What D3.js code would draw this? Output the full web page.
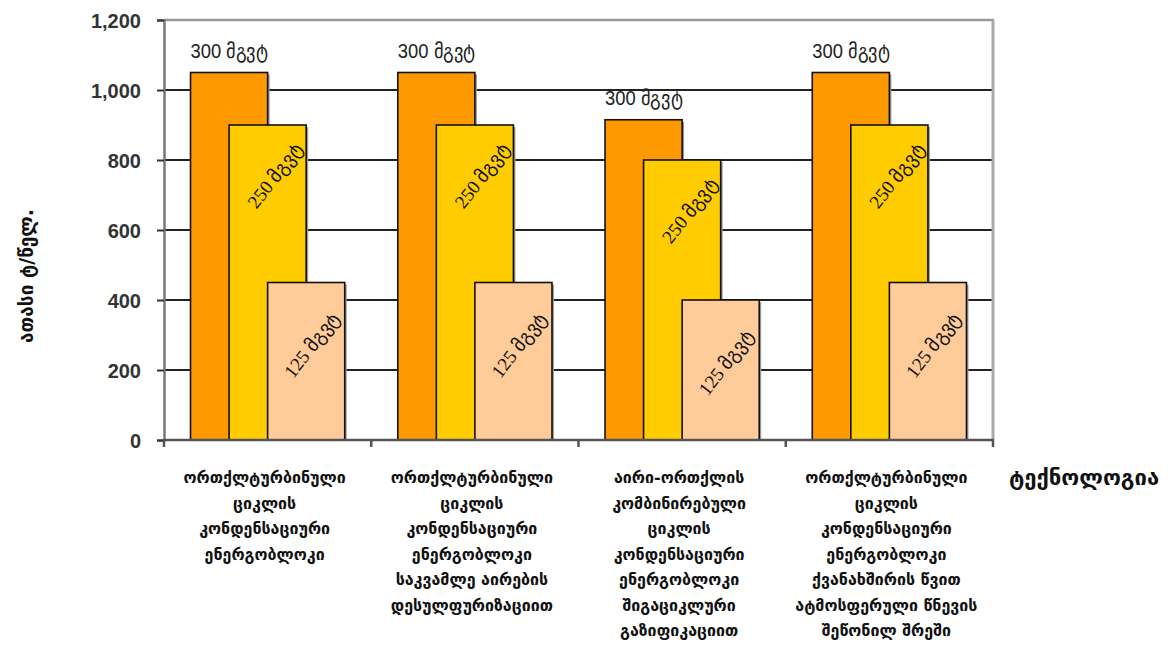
<!DOCTYPE html>
<html>
<head>
<meta charset="utf-8">
<script src="https://cdn.jsdelivr.net/npm/d3@7"></script>
<style>
  html, body { margin: 0; padding: 0; background: #fff; }
  svg { display: block; }
</style>
</head>
<body>
<div id="chart"></div>
<script>
const categories = [
  ["ორთქლტურბინული", "ციკლის", "კონდენსაციური", "ენერგობლოკი"],
  ["ორთქლტურბინული", "ციკლის", "კონდენსაციური", "ენერგობლოკი", "საკვამლე აირების", "დესულფურიზაციით"],
  ["აირი-ორთქლის", "კომბინირებული", "ციკლის", "კონდენსაციური", "ენერგობლოკი", "შიგაციკლური", "გაზიფიკაციით"],
  ["ორთქლტურბინული", "ციკლის", "კონდენსაციური", "ენერგობლოკი", "ქვანახშირის წვით", "ატმოსფერული წნევის", "შეწონილ  შრეში"]
];
const seriesNames = ["300 მგვტ", "250 მგვტ", "125 მგვტ"];
const values300 = [1050, 1050, 915, 1050];
const values250 = [900, 900, 800, 900];
const values125 = [450, 450, 400, 450];
const yTicks = [0, 200, 400, 600, 800, 1000, 1200];
const yTitle = "ათასი ტ/წელ.";
const xTitle = "ტექნოლოგია";

const W = 1173, H = 649;
const plot = { left: 164, right: 993, top: 20, bottom: 440 };
const colors = ["#FF9900", "#FFCC00", "#FFCC99"];

const svg = d3.select("#chart").append("svg").attr("width", W).attr("height", H);

const x = d3.scaleBand().domain(d3.range(categories.length)).range([plot.left, plot.right]).paddingInner(0).paddingOuter(0);
const y = d3.scaleLinear().domain([0, 1200]).range([plot.bottom, plot.top]);

// gridlines
svg.append("g").selectAll("line").data(yTicks.filter(t => t > 0 && t < 1200)).join("line")
  .attr("x1", plot.left).attr("x2", plot.right)
  .attr("y1", d => y(d)).attr("y2", d => y(d))
  .attr("stroke", "#222").attr("stroke-width", 2);

// top & right border
svg.append("line").attr("x1", plot.left).attr("x2", plot.right + 1).attr("y1", y(1200)).attr("y2", y(1200))
  .attr("stroke", "#999").attr("stroke-width", 2.5);
svg.append("line").attr("x1", plot.right).attr("x2", plot.right).attr("y1", y(1200)).attr("y2", plot.bottom)
  .attr("stroke", "#aaa").attr("stroke-width", 3);

// bars
const series = [values300, values250, values125];
const barW = x.bandwidth() * 0.372;
const step = barW / 2;
const barsG = svg.append("g");
series.forEach((vals, si) => {
  const g = barsG.append("g");
  const left = (d, i) => x(i) + x.bandwidth() / 2 - barW + si * step;
  g.selectAll("rect.shadow").data(vals).join("rect").attr("class", "shadow")
    .attr("x", (d, i) => left(d, i) + 2).attr("y", d => y(d) + 2)
    .attr("width", barW).attr("height", d => y(0) - y(d) - 2)
    .attr("fill", "#999");
  g.selectAll("rect.bar").data(vals).join("rect").attr("class", "bar")
    .attr("x", (d, i) => left(d, i)).attr("y", d => y(d))
    .attr("width", barW).attr("height", d => y(0) - y(d))
    .attr("fill", colors[si]).attr("stroke", "#111").attr("stroke-width", 1.6);
});

// bar labels
values300.forEach((v, i) => {
  const cx = x(i) + x.bandwidth() / 2 - barW / 2;
  svg.append("text")
    .attr("transform", `translate(${cx},${y(v) - 15}) scale(0.92,1)`)
    .attr("text-anchor", "middle")
    .attr("font-family", "Liberation Sans, Arial, sans-serif")
    .attr("font-size", 20).attr("fill", "#222")
    .text(seriesNames[0]);
});
const rotOffsets = [null, { dx: 9, dy: 52 }, { dx: 7, dy: 64 }];
[values250, values125].forEach((vals, k) => {
  const si = k + 1;
  vals.forEach((v, i) => {
    const cx = x(i) + x.bandwidth() / 2 - barW + si * step + barW / 2 + rotOffsets[si].dx;
    const cy = y(v) + rotOffsets[si].dy;
    svg.append("text")
      .attr("transform", `translate(${cx},${cy}) rotate(-52)`)
      .attr("text-anchor", "middle").attr("dominant-baseline", "middle")
      .attr("font-family", "Liberation Serif, Times New Roman, serif")
      .attr("font-size", 19).attr("fill", "#111")
      .text(seriesNames[si]);
  });
});

// y axis
const yAxis = d3.axisLeft(y).tickValues(yTicks).tickSize(7).tickPadding(16).tickFormat(d3.format(","));
const yg = svg.append("g").attr("transform", `translate(${plot.left},0)`).call(yAxis);
yg.select(".domain").attr("stroke", "#777").attr("stroke-width", 2.5);
yg.selectAll(".tick line").attr("stroke", "#333").attr("stroke-width", 2);
yg.selectAll(".tick text").attr("font-family", "Liberation Sans, Arial, sans-serif")
  .attr("font-size", 20).attr("fill", "#333").attr("font-weight", "bold").attr("dy", "0.36em");

// x axis
svg.append("line").attr("x1", plot.left).attr("x2", plot.right + 1).attr("y1", plot.bottom).attr("y2", plot.bottom)
  .attr("stroke", "#555").attr("stroke-width", 2.5);
svg.append("g").selectAll("line").data(d3.range(categories.length + 1)).join("line")
  .attr("x1", i => i < categories.length ? x(i) : plot.right)
  .attr("x2", i => i < categories.length ? x(i) : plot.right)
  .attr("y1", plot.bottom).attr("y2", plot.bottom + 7)
  .attr("stroke", "#555").attr("stroke-width", 2.5);

// category labels
categories.forEach((lines, i) => {
  const t = svg.append("text")
    .attr("text-anchor", "middle")
    .attr("font-family", "DejaVu Sans, Noto Sans, sans-serif")
    .attr("font-size", 16).attr("font-weight", "bold").attr("fill", "#111");
  lines.forEach((ln, j) => {
    t.append("tspan").attr("x", x(i) + x.bandwidth() / 2 - 3).attr("y", 483 + j * 25.5).text(ln);
  });
});

// axis titles
svg.append("text").attr("x", 1084).attr("y", 485).attr("text-anchor", "middle")
  .attr("font-family", "DejaVu Sans, Noto Sans, sans-serif")
  .attr("font-size", 22).attr("font-weight", "bold").attr("fill", "#111").text(xTitle);
svg.append("text").attr("transform", "translate(33,276) rotate(-90)").attr("text-anchor", "middle")
  .attr("font-family", "DejaVu Sans, Noto Sans, sans-serif")
  .attr("font-size", 19).attr("font-weight", "bold").attr("fill", "#111").text(yTitle);
</script>
</body>
</html>
